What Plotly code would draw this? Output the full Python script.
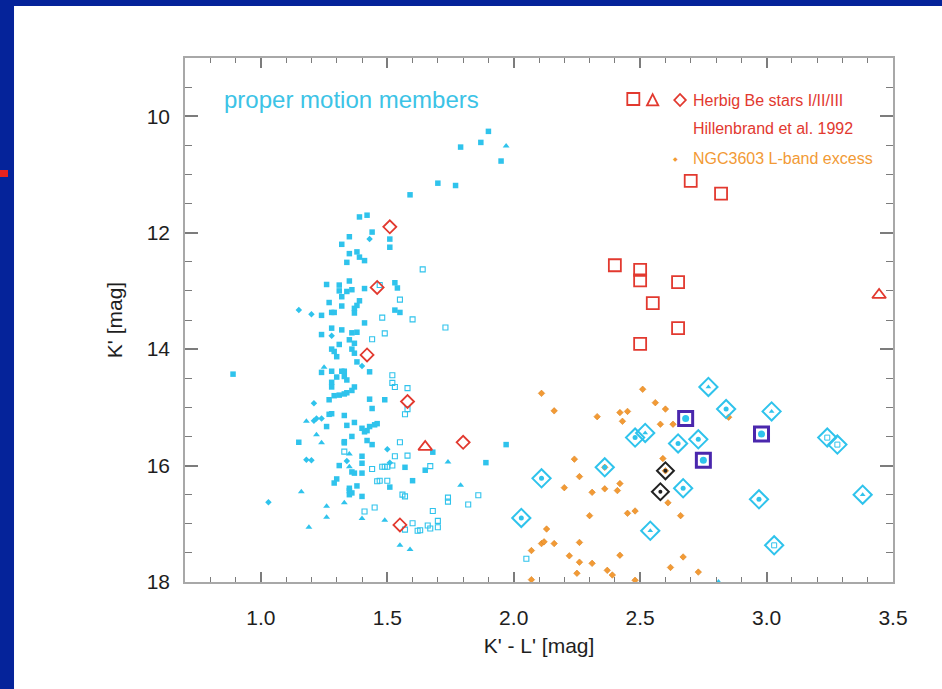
import plotly.graph_objects as go

# ---------------- data (K'-L', K') ----------------
pm_square = [
    (1.90, 10.26), (1.87, 10.45), (1.79, 10.53), (1.95, 10.77), (1.70, 11.15), (1.77, 11.19),
    (1.59, 11.35), (1.39, 11.73), (1.42, 11.70), (1.44, 11.99), (1.51, 12.11), (1.51, 12.25),
    (1.35, 12.07), (1.32, 12.20), (1.35, 12.36), (1.38, 12.33), (1.39, 12.42), (1.41, 12.48),
    (1.34, 12.51), (1.26, 12.89), (1.31, 12.90), (1.35, 12.83), (1.31, 13.00), (1.34, 13.01),
    (1.36, 12.98), (1.41, 12.96), (1.53, 12.86), (1.54, 12.95), (1.32, 13.10), (1.39, 13.17),
    (1.27, 13.20), (1.38, 13.25), (1.37, 13.30), (1.32, 13.26), (1.24, 13.42), (1.28, 13.37),
    (1.29, 13.37), (1.37, 13.38), (1.53, 13.33), (1.55, 13.37), (1.41, 13.55), (1.24, 13.75),
    (1.32, 13.67), (1.28, 13.64), (1.36, 13.72), (1.38, 13.71), (1.35, 13.84), (1.37, 13.90),
    (1.31, 13.92), (1.28, 14.00), (1.29, 14.04), (1.36, 14.00), (1.37, 14.07), (1.30, 14.13),
    (1.38, 14.22), (1.43, 14.39), (1.24, 14.40), (1.28, 14.38), (1.32, 14.38), (1.33, 14.38),
    (1.33, 14.47), (1.34, 14.53), (1.30, 14.48), (1.28, 14.57), (1.28, 14.65), (0.89, 14.43),
    (1.29, 14.80), (1.31, 14.79), (1.33, 14.77), (1.34, 14.75), (1.36, 14.71), (1.37, 14.65),
    (1.27, 14.87), (1.43, 14.86), (1.49, 14.87), (1.44, 15.02), (1.28, 15.11), (1.27, 15.12),
    (1.33, 15.14), (1.26, 15.33), (1.34, 15.31), (1.37, 15.26), (1.40, 15.36), (1.41, 15.42),
    (1.42, 15.40), (1.43, 15.33), (1.45, 15.30), (1.46, 15.28), (1.36, 15.50), (1.15, 15.60),
    (1.33, 15.59), (1.33, 15.61), (1.42, 15.57), (1.44, 15.64), (1.68, 15.77), (1.40, 15.84),
    (1.31, 16.00), (1.40, 15.96), (1.57, 16.03), (1.65, 16.08), (1.89, 15.95), (1.97, 15.64),
    (1.36, 16.11), (1.37, 16.13), (1.40, 16.13), (1.30, 16.23), (1.29, 16.30), (1.60, 16.26),
    (1.51, 16.37), (1.35, 16.39), (1.38, 16.35), (1.35, 16.43), (1.35, 16.50), (1.36, 16.47),
    (1.40, 16.53),
]
pm_open = [
    (1.64, 12.63), (1.47, 12.90), (1.55, 13.15), (1.48, 13.46), (1.60, 13.49), (1.73, 13.63),
    (1.49, 13.73), (1.44, 13.83), (1.52, 14.45), (1.52, 14.58), (1.53, 14.65), (1.58, 14.67),
    (1.57, 15.12), (1.58, 15.03), (1.55, 15.60), (1.33, 15.76), (1.53, 15.84), (1.58, 15.83),
    (1.48, 16.02), (1.49, 16.02), (1.50, 16.02), (1.52, 16.00), (1.44, 16.06), (1.67, 16.01),
    (1.46, 16.27), (1.47, 16.26), (1.50, 16.26), (1.56, 16.50), (1.57, 16.53), (1.74, 16.55),
    (1.74, 16.62), (1.82, 16.67), (1.86, 16.51), (1.45, 16.72), (1.41, 16.79), (1.68, 16.78),
    (1.57, 17.10), (1.60, 16.99), (1.62, 17.12), (1.63, 17.11), (1.66, 17.03), (1.67, 17.08),
    (1.70, 17.06), (1.70, 16.95), (2.05, 17.60),
]
pm_triangle = [
    (1.97, 10.51), (1.25, 14.31), (1.18, 15.24), (1.22, 15.47), (1.24, 15.61), (1.35, 15.80),
    (1.35, 16.02), (1.74, 15.94), (1.79, 16.34), (1.16, 16.45), (1.33, 16.64), (1.26, 16.70),
    (1.26, 16.89), (1.40, 16.91), (1.49, 16.94), (1.19, 17.06), (1.55, 17.37), (1.59, 17.44),
    (2.81, 18.00),
]
pm_diamond = [
    (1.43, 12.11), (1.15, 13.33), (1.20, 13.40), (1.28, 13.77), (1.40, 14.29), (1.21, 14.93),
    (1.21, 15.23), (1.22, 15.19), (1.24, 15.19), (1.50, 15.72), (1.34, 15.92), (1.18, 15.90),
    (1.20, 15.91), (1.51, 15.95), (1.03, 16.63),
]
# L-band excess proper-motion members (big cyan diamonds) and their member group
excess_pm = [
    (2.77, 14.65), (2.84, 15.03), (3.02, 15.07), (2.48, 15.52), (2.52, 15.44), (2.65, 15.62),
    (2.73, 15.55), (3.24, 15.52), (3.28, 15.64), (2.36, 16.03), (2.11, 16.22), (2.67, 16.39),
    (2.97, 16.58), (3.38, 16.50), (2.03, 16.90), (2.54, 17.12), (3.03, 17.37),
]
excess_group = ["tri", "dot", "tri", "dot", "tri", "dot", "dot", "sq", "sq", "dot", "dot",
                "dot", "dot", "tri", "dot", "tri", "sq"]
special_pm = [(2.68, 15.19), (2.98, 15.46), (2.75, 15.91)]
black_stars = [(2.60, 16.09), (2.58, 16.45)]
herbig_I = [(2.70, 11.11), (2.82, 11.33), (2.40, 12.56), (2.50, 12.64), (2.50, 12.82),
            (2.65, 12.85), (2.55, 13.21), (2.65, 13.64), (2.50, 13.91)]
herbig_II = [(1.65, 15.68), (3.445, 13.07)]
herbig_III = [(1.51, 11.90), (1.46, 12.94), (1.42, 14.10), (1.58, 14.90), (1.80, 15.60), (1.55, 17.02)]
lband = [
    (2.11, 14.76), (2.16, 15.06), (2.33, 15.16), (2.42, 15.09), (2.45, 15.07), (2.43, 15.24),
    (2.51, 14.69), (2.56, 14.92), (2.60, 15.03), (2.58, 15.29), (2.63, 15.29), (2.85, 15.17),
    (2.24, 15.89), (2.26, 16.19), (2.20, 16.38), (2.31, 16.46), (2.36, 16.40), (2.41, 16.43),
    (2.42, 16.31), (2.59, 15.88), (2.61, 16.64), (2.66, 16.86), (2.30, 16.86), (2.45, 16.82),
    (2.48, 16.78), (2.13, 17.09), (2.11, 17.34), (2.12, 17.31), (2.16, 17.34), (2.26, 17.32),
    (2.07, 17.46), (2.22, 17.55), (2.26, 17.66), (2.31, 17.68), (2.42, 17.54), (2.67, 17.57),
    (2.25, 17.85), (2.37, 17.80), (2.39, 17.88), (2.62, 17.75), (2.73, 17.83), (2.07, 17.96),
    (2.48, 17.97), (2.36, 16.03), (2.60, 16.09),
]

# ---------------- style ----------------
CYAN = "#2fc3ec"
RED = "#e2392f"
ORANGE = "#f29a35"
PURPLE = "#4a27ad"
FRAME = "#05239a"
FONT = "Liberation Sans, Arial, sans-serif"
TICK = "#7c7c7c"

fig = go.Figure()


def add(pts, symbol, size, color, lw=0, lcolor=None):
    fig.add_trace(go.Scatter(
        x=[p[0] for p in pts], y=[p[1] for p in pts], mode="markers",
        marker=dict(symbol=symbol, size=size, color=color,
                    line=dict(width=lw, color=lcolor or color)),
        hoverinfo="x+y"))


add(lband, "diamond", 5, ORANGE, 0.6, "#dd8420")
add(pm_square, "square", 5.5, CYAN)
add(pm_open, "square-open", 5, CYAN, 1.1)
add(pm_triangle, "triangle-up", 6, CYAN)
add(pm_diamond, "diamond", 5, CYAN)

inner_sym = {"tri": "triangle-up", "dot": "circle", "sq": "square-open"}
for kind in ["tri", "dot", "sq"]:
    pts = [p for p, g in zip(excess_pm, excess_group) if g == kind]
    add(pts, inner_sym[kind], 5, CYAN, 1 if kind == "sq" else 0)
add(excess_pm, "diamond-open", 14, CYAN, 2)

add(special_pm, "circle", 7, CYAN)
add(special_pm, "square-open", 14, PURPLE, 3)
add(black_stars, "circle", 4, "#222222")
add(black_stars, "diamond-open", 13, "#222222", 2)

add(herbig_I, "square-open", 12, RED, 1.8)
add(herbig_II, "triangle-up-open", 12, RED, 1.8)
add(herbig_III, "diamond-open", 10, RED, 1.8)

axis_common = dict(
    ticks="inside", tickwidth=1.5, tickcolor=TICK,
    showline=True, linecolor="#a8a8a8", linewidth=1.5, mirror="allticks",
    showgrid=False, zeroline=False,
    tickfont=dict(family=FONT, size=21, color="#1e1e1e"),
)

key_line = dict(color=RED, width=1.8)

fig.update_layout(
    width=942, height=689,
    margin=dict(l=185, r=49, t=58, b=107),
    paper_bgcolor=FRAME, plot_bgcolor="white",
    showlegend=False,
    xaxis=dict(range=[0.7, 3.5], tick0=1.0, dtick=0.5, tickformat=".1f", ticklen=10,
               minor=dict(dtick=0.1, tick0=0, ticks="inside", ticklen=5, tickcolor=TICK, tickwidth=1.2),
               ticklabelstandoff=16,
               title=dict(text="K' - L' [mag]", font=dict(family=FONT, size=21, color="#1e1e1e"),
                          standoff=10),
               **axis_common),
    yaxis=dict(range=[18, 9], tick0=10, dtick=2, ticklen=13,
               minor=dict(dtick=0.5, tick0=0, ticks="inside", ticklen=7, tickcolor=TICK, tickwidth=1.2),
               ticklabelstandoff=9,
               title=dict(text="K' [mag]", font=dict(family=FONT, size=21, color="#1e1e1e"),
                          standoff=18),
               **axis_common),
    shapes=[
        # white slide area and the small red mark on the blue frame
        dict(type="rect", xref="paper", yref="paper", x0=-0.2415, x1=1.2, y0=-0.3, y1=1.0992,
             fillcolor="white", line=dict(width=0), layer="below"),
        dict(type="rect", xref="paper", yref="paper", x0=-0.2613, x1=-0.25, y0=0.7729, y1=0.7863,
             fillcolor="#e8231f", line=dict(width=0), layer="below"),
        # legend keys: square / triangle / diamond
        dict(type="rect", xref="paper", yref="paper", x0=0.6247, x1=0.6417, y0=0.9103, y1=0.9332,
             line=key_line),
        dict(type="path", xref="paper", yref="paper",
             path="M 0.6525 0.9094 L 0.6685 0.9094 L 0.6605 0.9310 Z", line=key_line),
        dict(type="path", xref="paper", yref="paper",
             path="M 0.6910 0.9198 L 0.6992 0.9313 L 0.7074 0.9198 L 0.6992 0.9083 Z", line=key_line),
    ],
    annotations=[
        dict(text="proper motion members", xref="paper", yref="paper", x=0.0517, y=0.92,
             xanchor="left", yanchor="middle", showarrow=False,
             font=dict(family=FONT, size=24, color="#3cc3e6")),
        dict(text="Herbig Be stars I/II/III", xref="paper", yref="paper", x=0.7143, y=0.9198,
             xanchor="left", yanchor="middle", showarrow=False,
             font=dict(family=FONT, size=16, color=RED)),
        dict(text="Hillenbrand et al. 1992", xref="paper", yref="paper", x=0.7143, y=0.8655,
             xanchor="left", yanchor="middle", showarrow=False,
             font=dict(family=FONT, size=16, color=RED)),
        dict(text="◆", xref="paper", yref="paper", x=0.6925, y=0.8086,
             xanchor="center", yanchor="middle", showarrow=False,
             font=dict(family="DejaVu Sans", size=6, color=ORANGE)),
        dict(text="NGC3603 L-band excess", xref="paper", yref="paper", x=0.7143, y=0.8086,
             xanchor="left", yanchor="middle", showarrow=False,
             font=dict(family=FONT, size=16, color=ORANGE)),
    ],
)

fig.write_html("out.html")
